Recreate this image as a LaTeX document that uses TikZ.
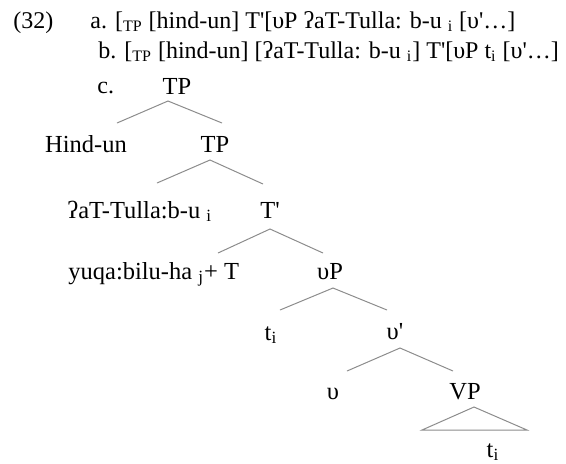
\documentclass[tikz,border=0pt]{standalone}
\usepackage{fontspec}
\setmainfont{Liberation Serif}[Ligatures=TeXOff]
\tikzset{
  word/.style={inner sep=0pt, anchor=base},
  exline/.style={word, anchor=base west, font=\fontsize{12}{14}\selectfont},
  branch/.style={draw=black!45, line width=0.5pt}
}
\begin{document}
\begin{tikzpicture}[x=0.5pt,y=-0.5pt]
			\fontsize{12.25}{14}\selectfont
			\useasboundingbox (0,0) rectangle (566,463);
			
			% the example lines
			\node[exline] (num) at (13,28) {(32)};
			\node[exline] (lineA) at (90,28) {a. [\textsubscript{TP} [hind-un] T'[υP ʔaT-Tulla: b-u \textsubscript{i} [υ'…]};
			\node[exline] (lineB) at (98,58) {b. [\textsubscript{TP} [hind-un] [ʔaT-Tulla: b-u \textsubscript{i}] T'[υP t\textsubscript{i} [υ'…]};
			\node[exline] (labC) at (97,93) {c.};
			
			% the tree
			\node[word] (tpTop) at (177,94) {TP};
			\node[word] (hindun) at (86,152) {Hind-un};
			\node[word] (tpLow) at (215,152) {TP};
			\node[word, anchor=base west] (tulla) at (67,218) {ʔaT-Tulla:b-u \textsubscript{i}};
			\node[word] (tbar) at (270,218) {T'};
			\node[word, anchor=base west] (yuqa) at (68,279) {yuqa:bilu-ha \textsubscript{j}+ T};
			\node[word] (vP) at (330,279) {υP};
			\node[word] (tTrace) at (271,340) {t\textsubscript{i}};
			\node[word] (vbar) at (395,339) {υ'};
			\node[word] (vHead) at (333,399) {υ};
			\node[word] (VP) at (465,399) {VP};
			\node[word] (tBottom) at (493,457) {t\textsubscript{i}};
			
			\coordinate (tpTop-top) at (168,101);
			\coordinate (tpTop-l) at (117,123);
			\coordinate (tpTop-r) at (222,123);
			\coordinate (tpLow-top) at (210,160);
			\coordinate (tpLow-l) at (157,183);
			\coordinate (tpLow-r) at (263,184);
			\coordinate (tbar-top) at (270,229);
			\coordinate (tbar-l) at (218,253);
			\coordinate (tbar-r) at (323,253);
			\coordinate (vP-top) at (333,288);
			\coordinate (vP-l) at (280,310);
			\coordinate (vP-r) at (387,310);
			\coordinate (vbar-top) at (400,348);
			\coordinate (vbar-l) at (347,371);
			\coordinate (vbar-r) at (453,371);
			\coordinate (VP-top) at (474,407);
			\coordinate (VP-l) at (422,430);
			\coordinate (VP-r) at (527,430);
			
			\draw[branch] (tpTop-l) -- (tpTop-top) -- (tpTop-r);
			\draw[branch] (tpLow-l) -- (tpLow-top) -- (tpLow-r);
			\draw[branch] (tbar-l) -- (tbar-top) -- (tbar-r);
			\draw[branch] (vP-l) -- (vP-top) -- (vP-r);
			\draw[branch] (vbar-l) -- (vbar-top) -- (vbar-r);
			\draw[branch] (VP-l) -- (VP-top) -- (VP-r) -- cycle;
		\end{tikzpicture}
\end{document}
